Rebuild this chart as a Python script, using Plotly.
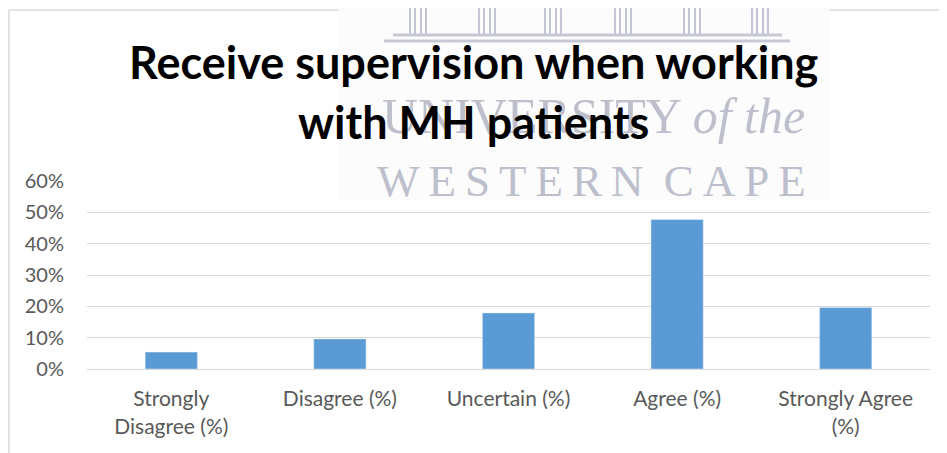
import plotly.graph_objects as go

# survey responses (share of respondents)
categories = ["Strongly Disagree (%)", "Disagree (%)", "Uncertain (%)", "Agree (%)", "Strongly Agree (%)"]
tick_labels = ["Strongly<br>Disagree (%)", "Disagree (%)", "Uncertain (%)", "Agree (%)", "Strongly Agree<br>(%)"]
shares = [0.054, 0.096, 0.179, 0.477, 0.196]
y_ticks = [0, 0.1, 0.2, 0.3, 0.4, 0.5, 0.6]

# page body has an 8px margin, so the figure is shrunk by that much
OFF = 8
W, H = 947 - OFF, 453 - OFF
L, R, T, B = 79, 17, 173, 84
pw, ph = W - L - R, H - T - B


def px(x):
    # page pixel x -> paper x
    return (x - OFF - L) / pw


def py(y):
    # page pixel y -> paper y
    return (H - B - (y - OFF)) / ph


fig = go.Figure([go.Bar(x=categories, y=shares, marker_color="#5B9BD5", width=0.31)])

shapes = []
# chart frame (top and left edges visible)
shapes.append(dict(type="line", xref="paper", yref="paper", x0=px(9), x1=px(947), y0=py(10), y1=py(10),
                   line=dict(color="#d9d9d9", width=1.5)))
shapes.append(dict(type="line", xref="paper", yref="paper", x0=px(9), x1=px(9), y0=py(10), y1=py(453),
                   line=dict(color="#d9d9d9", width=1.5)))
# watermark patch and building
shapes.append(dict(type="rect", xref="paper", yref="paper", x0=px(338), x1=px(830), y0=py(8), y1=py(200),
                   fillcolor="rgba(252,252,253,0.9)", line=dict(width=0), layer="above"))
for cx in [418, 487, 553, 623, 692, 760]:
    for dx in [-8, -3, 3, 8]:
        shapes.append(dict(type="line", xref="paper", yref="paper", x0=px(cx + dx), x1=px(cx + dx),
                           y0=py(8), y1=py(34), line=dict(color="#c3c4d4", width=2), layer="above"))
for yy, x0, x1 in [(35, 393, 782), (41, 384, 790)]:
    shapes.append(dict(type="line", xref="paper", yref="paper", x0=px(x0), x1=px(x1), y0=py(yy), y1=py(yy),
                       line=dict(color="#c7c8d6", width=3), layer="above"))

annotations = [
    dict(text="UNIVERSITY <i>of the</i>", xref="paper", yref="paper", x=px(593), y=py(116),
         xanchor="center", yanchor="middle", showarrow=False,
         font=dict(family="Liberation Serif", size=50, color="#bdc0cc")),
    dict(text="W\u2009E\u2009S\u2009T\u2009E\u2009R\u2009N\u2009 C\u2009A\u2009P\u2009E", xref="paper", yref="paper",
         x=px(591), y=py(181), xanchor="center", yanchor="middle", showarrow=False,
         font=dict(family="Liberation Serif", size=45, color="#bdc0cc")),
    dict(text="Receive supervision when working", xref="paper", yref="paper", x=px(473), y=py(62),
         xanchor="center", yanchor="middle", showarrow=False,
         font=dict(family="Lato", size=45, color="black", weight="bold")),
    dict(text="with MH patients", xref="paper", yref="paper", x=px(473), y=py(122),
         xanchor="center", yanchor="middle", showarrow=False,
         font=dict(family="Lato", size=45, color="black", weight="bold")),
]

fig.update_layout(
    width=W, height=H,
    margin=dict(l=L, r=R, t=T, b=B),
    paper_bgcolor="white", plot_bgcolor="white",
    showlegend=False,
    shapes=shapes,
    annotations=annotations,
    font=dict(family="Lato", color="#595959"),
    xaxis=dict(tickvals=categories, ticktext=tick_labels, tickfont=dict(size=21, color="#595959"),
               showgrid=False, showline=True, linecolor="#d9d9d9", linewidth=1.3,
               ticklabelstandoff=11),
    yaxis=dict(range=[0, 0.6], tickvals=y_ticks, tickformat=".0%", tickfont=dict(size=20, color="#595959"),
               showgrid=True, gridcolor="#d9d9d9", gridwidth=1.3, zeroline=False,
               ticklabelstandoff=22),
)

fig.write_html("out.html")
